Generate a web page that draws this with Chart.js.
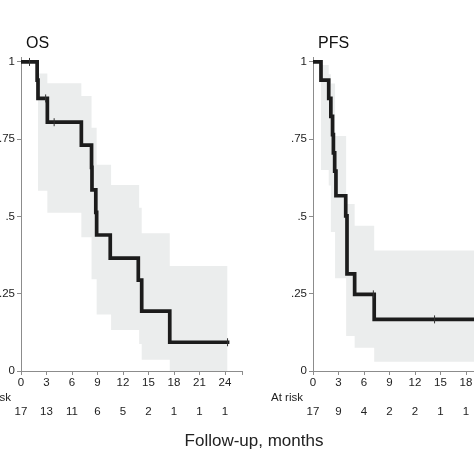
<!DOCTYPE html>
<html>
<head>
<meta charset="utf-8">
<script src="https://cdn.jsdelivr.net/npm/chart.js@4"></script>
<style>
html,body{margin:0;padding:0;width:474px;height:474px;overflow:hidden;background:#fff;}
canvas{position:absolute;top:0;}
#xlab{position:absolute;left:0;width:508px;top:431px;text-align:center;font:17px "Liberation Sans",Arial,sans-serif;color:#222;}
</style>
</head>
<body>
<canvas id="os" width="250" height="474" style="left:0"></canvas>
<canvas id="pfs" width="300" height="474" style="left:262px"></canvas>
<div id="xlab">Follow-up, months</div>
<script>
// ---- data ----
const xTicks = [0, 3, 6, 9, 12, 15, 18, 21, 24];
const yTicks = [0, 0.25, 0.5, 0.75, 1];

const osTimes = [0, 1.9, 2.0, 3.1, 7.1, 8.3, 8.35, 8.8, 8.9, 10.5, 13.8, 14.2, 17.5, 24.3];
const osSurv  = [1, 0.941, 0.882, 0.805, 0.731, 0.659, 0.586, 0.513, 0.44, 0.365, 0.294, 0.194, 0.093, 0.093];
const osCiTimes = [2.0, 3.1, 7.1, 8.3, 8.9, 10.6, 13.9, 14.2, 17.5, 24.3];
const osCiUpper = [0.963, 0.931, 0.89, 0.787, 0.667, 0.602, 0.528, 0.446, 0.34, 0.34];
const osCiLower = [0.583, 0.512, 0.433, 0.297, 0.183, 0.133, 0.087, 0.036, 0.0, 0.0];
const osCensorTimes = [1.0, 2.9, 3.9, 24.3];
const osCensorSurv  = [1, 0.882, 0.805, 0.093];
const osAtRisk = [17, 13, 11, 6, 5, 2, 1, 1, 1];

const pfsTimes = [0, 0.94, 1.85, 2.1, 2.3, 2.4, 2.55, 2.7, 3.85, 4.0, 4.9, 7.2, 26];
const pfsSurv  = [1, 0.941, 0.882, 0.824, 0.765, 0.706, 0.647, 0.567, 0.502, 0.314, 0.248, 0.167, 0.167];
const pfsCiTimes = [0.94, 1.85, 2.1, 2.6, 3.9, 4.9, 7.2, 26];
const pfsCiUpper = [0.99, 0.96, 0.93, 0.76, 0.54, 0.47, 0.39, 0.39];
const pfsCiLower = [0.65, 0.60, 0.45, 0.30, 0.113, 0.075, 0.03, 0.03];
const pfsCensorTimes = [7.1, 14.3];
const pfsCensorSurv  = [0.248, 0.167];
const pfsAtRisk = [17, 9, 4, 2, 2, 1, 1];

// ---- helpers ----
const FONT = '"Liberation Sans", Arial, sans-serif';
const pts = (xs, ys) => xs.map((x, i) => ({x: x, y: ys[i]}));

function makeChart(id, title, times, surv, ciT, ciU, ciL, cT, cS, atRisk, yWidth, padRight) {
  const textPlugin = {
    id: 'txt' + id,
    afterDraw(chart) {
      const ctx = chart.ctx, xs = chart.scales.x, a = chart.chartArea;
      ctx.save();
      ctx.fillStyle = '#111';
      ctx.font = '16px ' + FONT;
      ctx.textAlign = 'left';
      ctx.textBaseline = 'alphabetic';
      ctx.fillText(title, a.left + 5, 48);
      ctx.font = '11.5px ' + FONT;
      ctx.fillStyle = '#222';
      ctx.textAlign = 'right';
      ctx.textBaseline = 'middle';
      ctx.fillText('At risk', a.left - 10, 398);
      ctx.textAlign = 'center';
      atRisk.forEach((n, i) => {
        ctx.fillText(String(n), xs.getPixelForValue(xTicks[i]), 412);
      });
      ctx.restore();
    }
  };
  return new Chart(document.getElementById(id), {
    type: 'line',
    data: {
      datasets: [
        {data: pts(ciT, ciU), stepped: true, borderWidth: 0, pointRadius: 0,
         backgroundColor: '#ebeded', fill: '+1', order: 3},
        {data: pts(ciT, ciL), stepped: true, borderWidth: 0, pointRadius: 0,
         backgroundColor: '#ebeded', fill: false, order: 3},
        {data: pts(times, surv), stepped: true, borderColor: '#1c1c1c', borderWidth: 3.7,
         pointRadius: 0, fill: false, order: 1, borderCapStyle: 'square'},
        {data: pts(cT, cS), showLine: false, pointStyle: 'line', rotation: 90,
         pointRadius: 4, borderColor: '#333', pointBorderWidth: 1, order: 0}
      ]
    },
    options: {
      responsive: false,
      animation: false,
      events: [],
      layout: {padding: {top: 57, bottom: 73, left: 0, right: padRight}},
      plugins: {legend: {display: false}, tooltip: {enabled: false}},
      scales: {
        x: {
          type: 'linear', min: 0, max: 26,
          afterBuildTicks: s => { s.ticks = xTicks.concat([26]).map(v => ({value: v})); },
          afterFit: s => { s.height = 30; },
          ticks: {
            autoSkip: false, maxRotation: 0, padding: 1,
            color: '#222', font: {family: FONT, size: 11.5},
            callback: v => (v === 26 ? '' : String(v))
          },
          grid: {drawOnChartArea: false, drawTicks: true, tickLength: 4, color: '#8c8c8c'},
          border: {display: true, color: '#8c8c8c', width: 1}
        },
        y: {
          type: 'linear', min: 0, max: 1.016,
          afterBuildTicks: s => { s.ticks = yTicks.map(v => ({value: v})); },
          afterFit: s => { s.width = yWidth; },
          ticks: {
            autoSkip: false, padding: 2,
            color: '#222', font: {family: FONT, size: 11.5},
            callback: v => (v === 0 ? '0' : v === 1 ? '1' : String(v).replace('0.', '.'))
          },
          grid: {drawOnChartArea: false, drawTicks: true, tickLength: 4, color: '#8c8c8c'},
          border: {display: true, color: '#8c8c8c', width: 1}
        }
      }
    },
    plugins: [textPlugin]
  });
}

makeChart('os', 'OS', osTimes, osSurv, osCiTimes, osCiUpper, osCiLower,
          osCensorTimes, osCensorSurv, osAtRisk, 21, 8);
makeChart('pfs', 'PFS', pfsTimes, pfsSurv, pfsCiTimes, pfsCiUpper, pfsCiLower,
          pfsCensorTimes, pfsCensorSurv, pfsAtRisk, 51, 28);
</script>
</body>
</html>
